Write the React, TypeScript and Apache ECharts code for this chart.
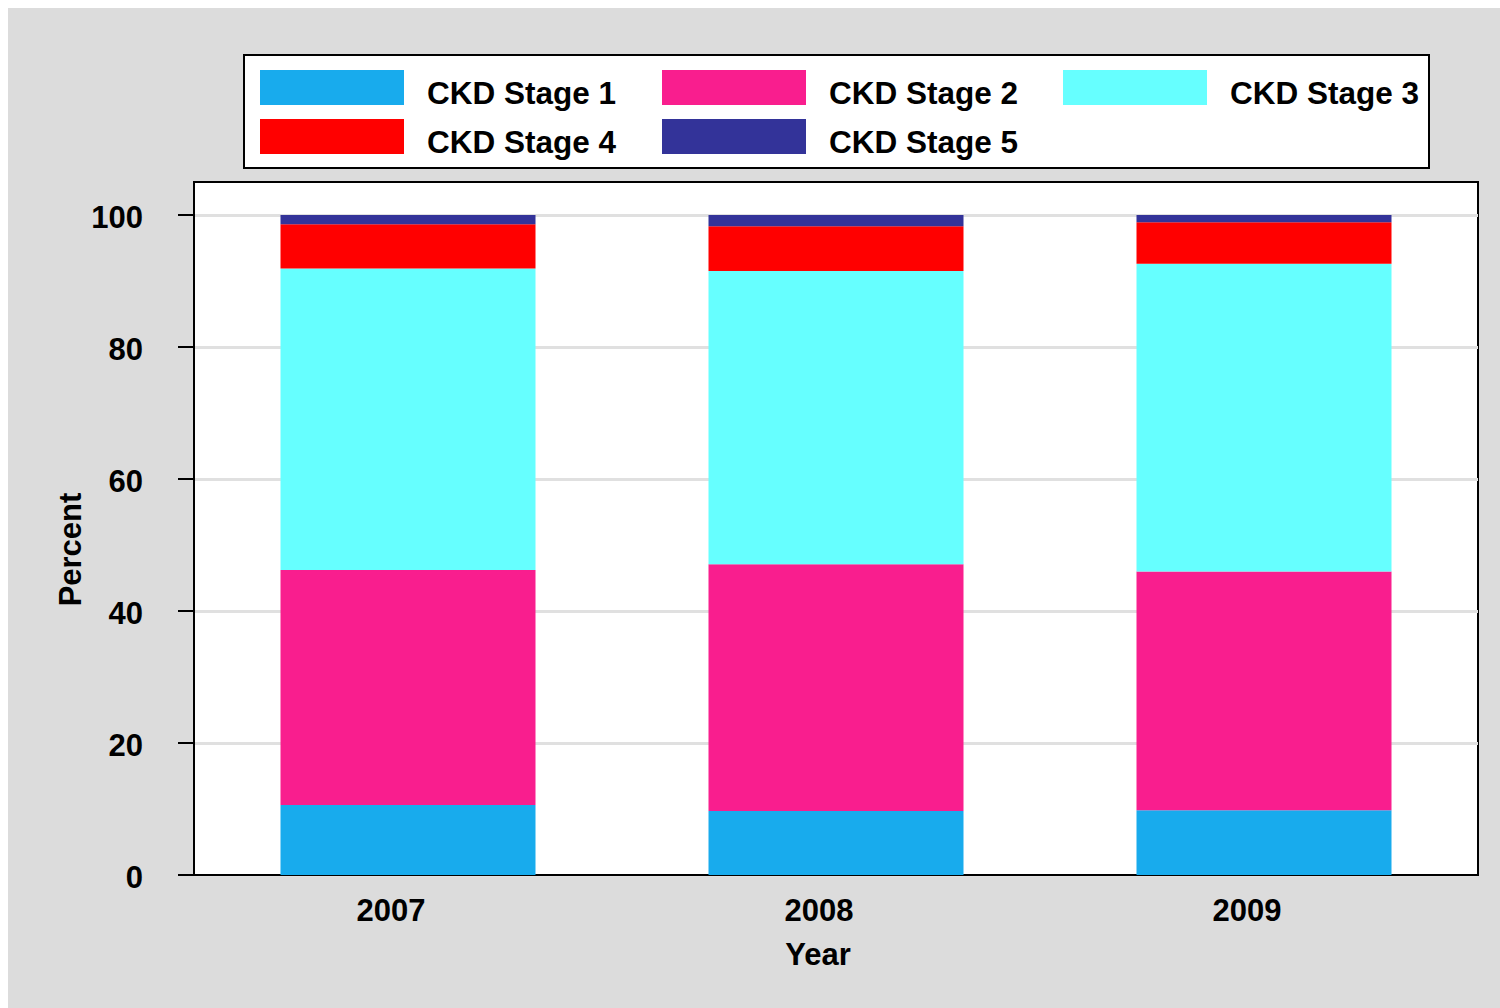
import React, { useEffect, useRef } from "react";
import * as echarts from "echarts";

const years = ["2007", "2008", "2009"];
const seriesNames = ["CKD Stage 1", "CKD Stage 2", "CKD Stage 3", "CKD Stage 4", "CKD Stage 5"];
const stage1 = [10.6, 9.7, 9.8];
const stage2 = [35.6, 37.4, 36.2];
const stage3 = [45.7, 44.4, 46.6];
const stage4 = [6.7, 6.8, 6.3];
const stage5 = [1.4, 1.7, 1.1];
const yTicks = [0, 20, 40, 60, 80, 100];
const colors = ["#18abed", "#f91e8e", "#66ffff", "#ff0000", "#333399"];

const FONT = "'Liberation Sans', Arial, sans-serif";

export default function App() {
  const ref = useRef<HTMLDivElement>(null);
  useEffect(() => {
    if (!ref.current) return;
    const chart = echarts.init(ref.current, null, { renderer: "svg" });
    const values = [stage1, stage2, stage3, stage4, stage5];
    // legend layout (div coordinates)
    const colX = [252, 654, 1055];
    const rowY = [62, 111];
    const legendItems: any[] = [];
    seriesNames.forEach((n, i) => {
      const cx = colX[i % 3];
      const ry = rowY[Math.floor(i / 3)];
      legendItems.push({
        type: "rect",
        z: 10,
        shape: { x: cx, y: ry, width: 144, height: 35 },
        style: { fill: colors[i] },
      });
      legendItems.push({
        type: "text",
        z: 10,
        x: cx + 167,
        y: ry + 22.5,
        style: {
          text: n,
          fill: "#000",
          fontSize: 31.5,
          fontWeight: "bold",
          fontFamily: FONT,
          align: "left",
          verticalAlign: "middle",
        },
      });
    });
    const option: any = {
      animation: false,
      backgroundColor: "#dcdcdc",
      graphic: [
        {
          type: "rect",
          z: 5,
          shape: { x: 236, y: 47, width: 1185, height: 113 },
          style: { fill: "#ffffff", stroke: "#000000", lineWidth: 2 },
        },
        ...legendItems,
      ],
      grid: {
        left: 186,
        top: 174,
        right: 22,
        bottom: 133,
        show: true,
        backgroundColor: "#ffffff",
        borderColor: "#000000",
        borderWidth: 2,
        containLabel: false,
      },
      xAxis: {
        type: "category",
        data: years,
        name: "Year",
        nameLocation: "middle",
        nameGap: 64,
        nameMoveOverlap: false,
        nameTextStyle: {
          fontSize: 31,
          fontWeight: "bold",
          fontFamily: FONT,
          color: "#000",
          padding: [0, 36, 0, 0],
        },
        axisLine: { show: true, lineStyle: { color: "#000", width: 2 } },
        axisTick: { show: false },
        axisLabel: {
          margin: 17,
          fontSize: 31,
          fontWeight: "bold",
          fontFamily: FONT,
          color: "#000",
          padding: [3, 34, 0, 0],
        },
      },
      yAxis: {
        type: "value",
        min: 0,
        max: 105,
        interval: 20,
        name: "Percent",
        nameLocation: "middle",
        nameGap: 108,
        nameRotate: 90,
        nameMoveOverlap: false,
        nameTextStyle: {
          fontSize: 31,
          fontWeight: "bold",
          fontFamily: FONT,
          color: "#000",
          padding: [0, 42, 0, 0],
        },
        axisLine: { show: true, lineStyle: { color: "#000", width: 2 } },
        axisTick: {
          show: true,
          length: 16,
          customValues: yTicks,
          lineStyle: { color: "#000", width: 2 },
        },
        axisLabel: {
          margin: 51,
          customValues: yTicks,
          fontSize: 31,
          fontWeight: "bold",
          fontFamily: FONT,
          color: "#000",
          verticalAlign: "top",
          lineHeight: 5,
        },
        splitLine: { show: true, lineStyle: { color: "#e0e0e0", width: 3 } },
      },
      series: seriesNames.map((n, i) => ({
        name: n,
        type: "bar",
        stack: "total",
        barWidth: 255,
        data: values[i],
        itemStyle: { color: colors[i] },
      })),
    };
    chart.setOption(option);
    return () => chart.dispose();
  }, []);
  return (
    <div style={{ position: "fixed", left: 0, top: 0, width: 1500, height: 1008, background: "#ffffff" }}>
      <div ref={ref} style={{ position: "absolute", left: 8, top: 8, width: 1492, height: 1000 }} />
    </div>
  );
}
